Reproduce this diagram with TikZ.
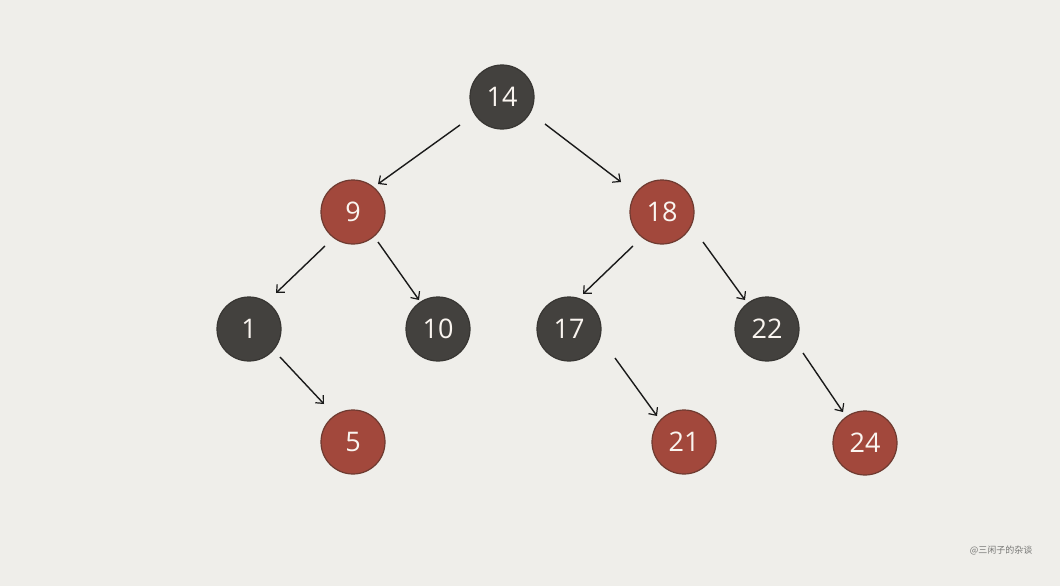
\documentclass[tikz,border=0pt]{standalone}
\usepackage{fontspec}
\setmainfont{Open Sans}
\newfontfamily\cjk{Noto Sans CJK SC}
\usetikzlibrary{arrows.meta,calc}
\definecolor{paper}{HTML}{EFEEEA}
\definecolor{blk}{HTML}{43413E}
\definecolor{blkrim}{HTML}{383633}
\definecolor{rd}{HTML}{A2483C}
\definecolor{rdrim}{HTML}{6E3A30}
\definecolor{txt}{HTML}{FAF5F0}
\definecolor{ink}{HTML}{1A1A1A}
\definecolor{wm}{HTML}{767674}
\tikzset{
  rb/.style={circle, minimum size=64pt, inner sep=0pt, line width=1.2pt,
    text=txt, font=\fontsize{27}{27}\selectfont},
  bnode/.style={rb, fill=blk, draw=blkrim},
  rnode/.style={rb, fill=rd, draw=rdrim},
  arr/.style={draw=ink, line width=1.4pt, -{Straight Barb[length=6pt,width=11pt,line width=1.2pt]}},
}
\begin{document}
\begin{tikzpicture}[x=1pt,y=-1pt]
\fill[paper] (0,0) rectangle (1060,586);
\useasboundingbox (0,0) rectangle (1060,586);
\node[bnode] (n14) at (502,97) {14};
\node[rnode] (n9) at (353,212) {9};
\node[rnode] (n18) at (662,212) {18};
\node[bnode] (n1) at (249,329) {1};
\node[bnode] (n10) at (438,329) {10};
\node[bnode] (n17) at (569,329) {17};
\node[bnode] (n22) at (767,329) {22};
\node[rnode] (n5) at (353,442) {5};
\node[rnode] (n21) at (684,442) {21};
\node[rnode] (n24) at (865,443) {24};
\draw[arr] ($(n14)+(-42,28)$) -- ($(n9)+(25,-28)$);
\draw[arr] ($(n14)+(43,27)$) -- ($(n18)+(-41,-30)$);
\draw[arr] ($(n9)+(-28,34)$) -- ($(n1)+(27,-36)$);
\draw[arr] ($(n9)+(25,30)$) -- ($(n10)+(-19,-29)$);
\draw[arr] ($(n1)+(31,28)$) -- ($(n5)+(-29,-38)$);
\draw[arr] ($(n18)+(-29,34)$) -- ($(n17)+(14,-35)$);
\draw[arr] ($(n18)+(41,30)$) -- ($(n22)+(-22,-29)$);
\draw[arr] ($(n17)+(46,29)$) -- ($(n21)+(-27,-26)$);
\draw[arr] ($(n22)+(36,24)$) -- ($(n24)+(-22,-31)$);
\node[text=wm, font=\cjk\fontsize{9}{10}\selectfont] (wmark) at (1001,550) {@三闲子的杂谈};
\end{tikzpicture}
\end{document}
